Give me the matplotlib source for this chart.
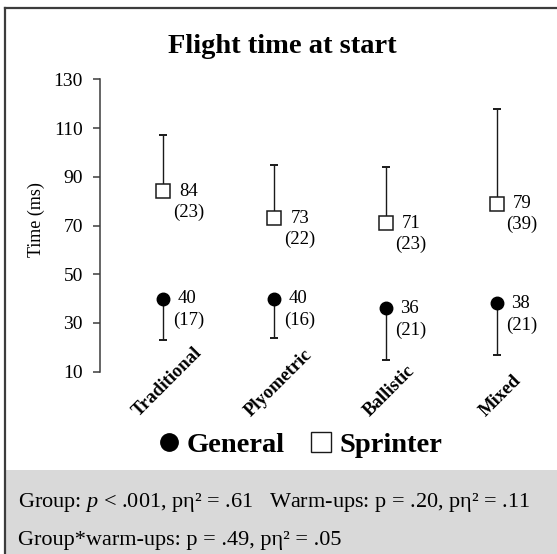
import matplotlib
matplotlib.use("Agg")
import matplotlib.pyplot as plt
from matplotlib.lines import Line2D
from matplotlib.patches import Rectangle
import matplotlib.transforms as mtransforms
import numpy as np

plt.rcParams["font.family"] = ["Liberation Serif", "DejaVu Serif"]
plt.rcParams["mathtext.fontset"] = "custom"
plt.rcParams["mathtext.rm"] = "Liberation Serif"
plt.rcParams["mathtext.it"] = "Liberation Serif:italic"

# Warm-up conditions and flight time (ms): mean and SD per group
warmups = ["Traditional", "Plyometric", "Ballistic", "Mixed"]
general_mean = [40, 40, 36, 38]
general_sd = [17, 16, 21, 21]
sprinter_mean = [84, 73, 71, 79]
sprinter_sd = [23, 22, 23, 39]
yticks = [10, 30, 50, 70, 90, 110, 130]

W, H = 557, 554
fig = plt.figure(figsize=(W / 100, H / 100), dpi=100)


def fx(px):
    return px / W


def fy(py):
    return 1 - py / H


# Statistics panel background and outer frame
fig.add_artist(Rectangle((fx(6), 0), 1, fy(470), transform=fig.transFigure,
                         facecolor="#d9d9d9", edgecolor="none", zorder=0))
fig.add_artist(Line2D([fx(5), fx(5)], [0, fy(8)], transform=fig.transFigure,
                      color="#3c3c3c", lw=1.6))
fig.add_artist(Line2D([fx(5), 1], [fy(8), fy(8)], transform=fig.transFigure,
                      color="#3c3c3c", lw=1.6))

ax = fig.add_axes([fx(100), fy(371.7), fx(441), fy(79.3) - fy(371.7)])
x = np.arange(1, len(warmups) + 1)
ax.set_xlim(0.429, 4.4)
ax.set_ylim(10, 130)

gm = np.array(general_mean, float)
gs = np.array(general_sd, float)
sm = np.array(sprinter_mean, float)
ss = np.array(sprinter_sd, float)

# one-sided error bars: sprinters upward, general group downward
ax.errorbar(x, sm, yerr=[np.zeros_like(ss), ss], fmt="none", ecolor="#1a1a1a",
            elinewidth=1.0, capsize=3, capthick=1.4, zorder=2)
ax.errorbar(x, gm, yerr=[gs, np.zeros_like(gs)], fmt="none", ecolor="#1a1a1a",
            elinewidth=1.0, capsize=3, capthick=1.4, zorder=2)
ax.plot(x, sm, ls="none", marker="s", ms=10.5, mfc="white", mec="#1a1a1a",
        mew=1.1, zorder=3)
ax.plot(x, gm, ls="none", marker="o", ms=9, mfc="black", mec="black", zorder=3)

for xi, m, s in zip(x, sm, ss):
    ax.annotate(f"{m:.0f}", (xi, m), xytext=(11.5, 0), textcoords="offset points",
                ha="left", va="center", fontsize=13.5)
    ax.annotate(f"({s:.0f})", (xi, m), xytext=(7.2, -15.1), textcoords="offset points",
                ha="left", va="center", fontsize=13.5)
for xi, m, s in zip(x, gm, gs):
    ax.annotate(f"{m:.0f}", (xi, m), xytext=(10.5, 0), textcoords="offset points",
                ha="left", va="center", fontsize=13.5)
    ax.annotate(f"({s:.0f})", (xi, m), xytext=(7.2, -15.8), textcoords="offset points",
                ha="left", va="center", fontsize=13.5)

for side in ["top", "right", "bottom"]:
    ax.spines[side].set_visible(False)
ax.spines["left"].set_color("#3c3c3c")
ax.spines["left"].set_linewidth(1.1)
ax.set_yticks(yticks)
ax.tick_params(axis="y", length=4.8, width=1.1, color="#3c3c3c", pad=7.6,
               labelsize=14)
ax.set_xticks([])
ax.patch.set_visible(False)

# rotated category labels, centred below each group
lab_tr = mtransforms.blended_transform_factory(ax.transData, fig.transFigure)
lab_tr = lab_tr + mtransforms.ScaledTranslation(4 / 100, 0, fig.dpi_scale_trans)
for xi, name in zip(x, warmups):
    ax.text(xi, fy(420), name, transform=lab_tr, rotation=45, ha="center",
            va="bottom", fontsize=13.5, fontweight="bold")

fig.text(fx(36.7), fy(220), "Time (ms)", rotation=90, ha="center", va="center",
         fontsize=13)

fig.text(fx(282.8), fy(53), "Flight time at start", ha="center", va="baseline",
         fontsize=20.5, fontweight="bold")

handles = [
    Line2D([], [], ls="none", marker="o", ms=12.5, mfc="black", mec="black"),
    Line2D([], [], ls="none", marker="s", ms=14, mfc="white", mec="#1a1a1a", mew=1.0),
]
fig.legend(handles, ["General", "Sprinter"], loc="center",
           bbox_to_anchor=(fx(299.7), fy(445)), ncol=2, frameon=False,
           prop={"weight": "bold", "size": 20.5}, handlelength=0.8,
           handletextpad=0.25, columnspacing=0.85, borderpad=0)

fig.text(fx(18), fy(507), "Group: $p$ < .001, pη² = .61   Warm-ups: p = .20, pη² = .11",
         ha="left", va="baseline", fontsize=16)
fig.text(fx(18), fy(545), "Group*warm-ups: p = .49, pη² = .05",
         ha="left", va="baseline", fontsize=16)

fig.savefig("out.png", dpi=100)
